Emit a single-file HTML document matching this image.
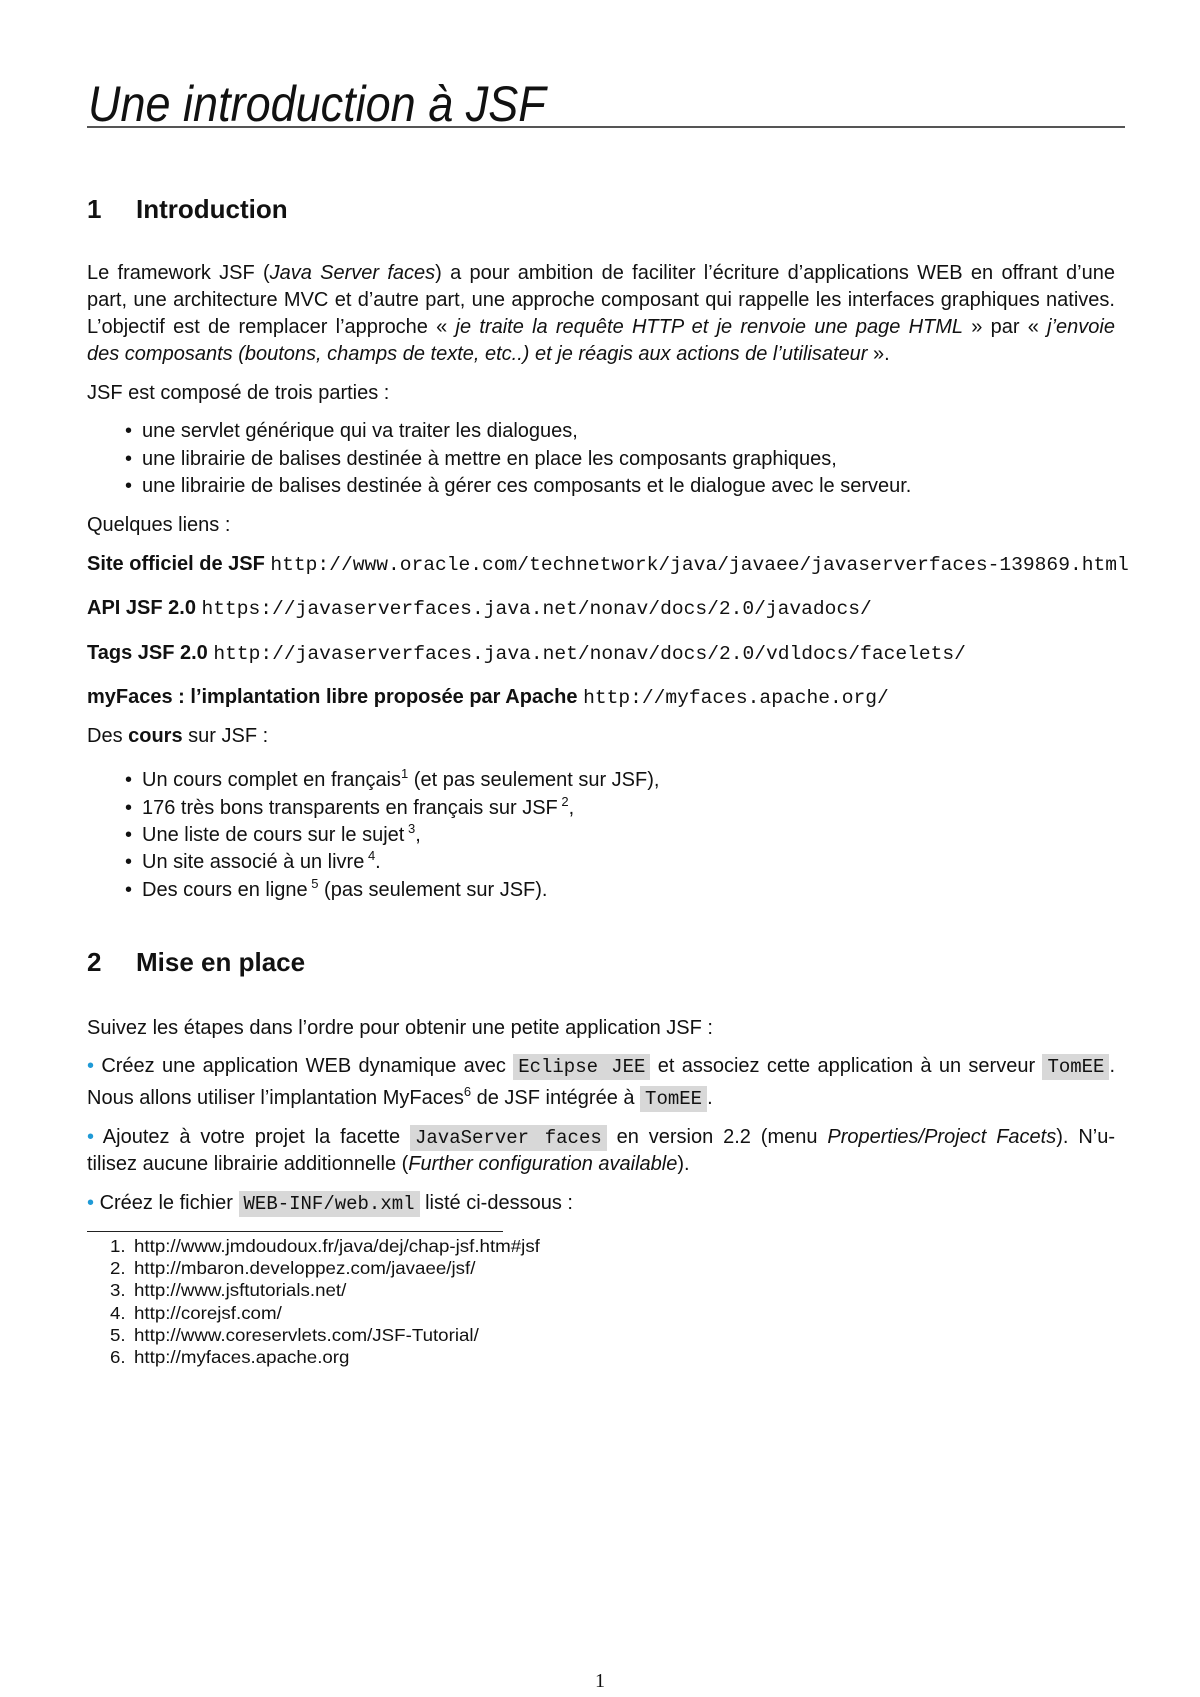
<!DOCTYPE html>
<html><head><meta charset="utf-8"><style>
html,body{margin:0;padding:0;background:#fff}
body{width:1200px;height:1697px;position:relative;overflow:hidden;font-family:"Liberation Sans",sans-serif;color:#111}
.l{position:absolute;left:87px;width:1028px;height:28px;line-height:28px;white-space:nowrap;font-size:20px}
.j{text-align:justify;text-align-last:justify}
.t{font-family:"Liberation Mono",monospace;font-size:19.6px}
.c{font-family:"Liberation Mono",monospace;font-size:19px;background:#d8d8d8;padding:2px 5px}
.b{position:absolute;left:125px;font-size:20px;line-height:28px;height:28px}
.bt{left:142px;width:980px}
.blue{color:#1f9ad6}
.s{font-size:13px;position:relative;top:-8px}
.f{position:absolute;font-size:17.5px;line-height:20px;height:20px;white-space:nowrap;transform:scaleX(1.07);transform-origin:left}
</style></head><body>
<div style="position:absolute;left:88px;top:74px;font-size:50px;font-style:italic;line-height:60px;white-space:nowrap;transform:scaleX(0.9);transform-origin:left">Une introduction à JSF</div>
<div style="position:absolute;left:87px;top:126px;width:1038px;height:2px;background:#555"></div>

<div style="position:absolute;left:87px;top:192px;font-size:26px;font-weight:bold;line-height:34px">1</div>
<div style="position:absolute;left:136px;top:192px;font-size:26px;font-weight:bold;line-height:34px">Introduction</div>

<div class="l j" style="top:259px">Le framework JSF (<i>Java Server faces</i>) a pour ambition de faciliter l’écriture d’applications WEB en offrant d’une</div>
<div class="l j" style="top:286px">part, une architecture MVC et d’autre part, une approche composant qui rappelle les interfaces graphiques natives.</div>
<div class="l j" style="top:313px">L’objectif est de remplacer l’approche « <i>je traite la requête HTTP et je renvoie une page HTML</i> » par « <i>j’envoie</i></div>
<div class="l" style="top:340px"><i>des composants (boutons, champs de texte, etc..) et je réagis aux actions de l’utilisateur</i> ».</div>

<div class="l" style="top:379px">JSF est composé de trois parties :</div>
<div class="b" style="top:417px">•</div><div class="l bt" style="top:417px">une servlet générique qui va traiter les dialogues,</div>
<div class="b" style="top:445px">•</div><div class="l bt" style="top:445px">une librairie de balises destinée à mettre en place les composants graphiques,</div>
<div class="b" style="top:472px">•</div><div class="l bt" style="top:472px">une librairie de balises destinée à gérer ces composants et le dialogue avec le serveur.</div>

<div class="l" style="top:511px">Quelques liens :</div>
<div class="l" style="top:550px;width:1100px"><b>Site officiel de JSF</b> <span class="t">http://www.oracle.com/technetwork/java/javaee/javaserverfaces-139869.html</span></div>
<div class="l" style="top:594px"><b>API JSF 2.0</b> <span class="t">https://javaserverfaces.java.net/nonav/docs/2.0/javadocs/</span></div>
<div class="l" style="top:639px"><b>Tags JSF 2.0</b> <span class="t">http://javaserverfaces.java.net/nonav/docs/2.0/vdldocs/facelets/</span></div>
<div class="l" style="top:683px"><b>myFaces : l’implantation libre proposée par Apache</b> <span class="t">http://myfaces.apache.org/</span></div>
<div class="l" style="top:722px">Des <b>cours</b> sur JSF :</div>
<div class="b" style="top:766px">•</div><div class="l bt" style="top:766px">Un cours complet en français<span class="s">1</span> (et pas seulement sur JSF),</div>
<div class="b" style="top:794px">•</div><div class="l bt" style="top:794px">176 très bons transparents en français sur JSF<span class="s"> 2</span>,</div>
<div class="b" style="top:821px">•</div><div class="l bt" style="top:821px">Une liste de cours sur le sujet<span class="s"> 3</span>,</div>
<div class="b" style="top:848px">•</div><div class="l bt" style="top:848px">Un site associé à un livre<span class="s"> 4</span>.</div>
<div class="b" style="top:876px">•</div><div class="l bt" style="top:876px">Des cours en ligne<span class="s"> 5</span> (pas seulement sur JSF).</div>

<div style="position:absolute;left:87px;top:945px;font-size:26px;font-weight:bold;line-height:34px">2</div>
<div style="position:absolute;left:136px;top:945px;font-size:26px;font-weight:bold;line-height:34px">Mise en place</div>

<div class="l" style="top:1014px">Suivez les étapes dans l’ordre pour obtenir une petite application JSF :</div>
<div class="l j" style="top:1052px"><span class="blue">•</span> Créez une application WEB dynamique avec <span class="c">Eclipse JEE</span> et associez cette application à un serveur <span class="c">TomEE</span>.</div>
<div class="l" style="top:1084px">Nous allons utiliser l’implantation MyFaces<span class="s">6</span> de JSF intégrée à <span class="c">TomEE</span>.</div>
<div class="l j" style="top:1123px"><span class="blue">•</span> Ajoutez à votre projet la facette <span class="c">JavaServer faces</span> en version 2.2 (menu <i>Properties/Project Facets</i>). N’u-</div>
<div class="l" style="top:1150px">tilisez aucune librairie additionnelle (<i>Further configuration available</i>).</div>
<div class="l" style="top:1189px"><span class="blue">•</span> Créez le fichier <span class="c">WEB-INF/web.xml</span> listé ci-dessous :</div>

<div style="position:absolute;left:87px;top:1231px;width:416px;height:1px;background:#222"></div>
<div class="f" style="left:110px;top:1236px">1.</div><div class="f" style="left:134px;top:1236px">http://www.jmdoudoux.fr/java/dej/chap-jsf.htm#jsf</div>
<div class="f" style="left:110px;top:1258px">2.</div><div class="f" style="left:134px;top:1258px">http://mbaron.developpez.com/javaee/jsf/</div>
<div class="f" style="left:110px;top:1280px">3.</div><div class="f" style="left:134px;top:1280px">http://www.jsftutorials.net/</div>
<div class="f" style="left:110px;top:1303px">4.</div><div class="f" style="left:134px;top:1303px">http://corejsf.com/</div>
<div class="f" style="left:110px;top:1325px">5.</div><div class="f" style="left:134px;top:1325px">http://www.coreservlets.com/JSF-Tutorial/</div>
<div class="f" style="left:110px;top:1347px">6.</div><div class="f" style="left:134px;top:1347px">http://myfaces.apache.org</div>

<div style="position:absolute;left:0;width:1200px;top:1669px;text-align:center;font-family:'Liberation Serif',serif;font-size:20px;line-height:24px">1</div>
</body></html>
